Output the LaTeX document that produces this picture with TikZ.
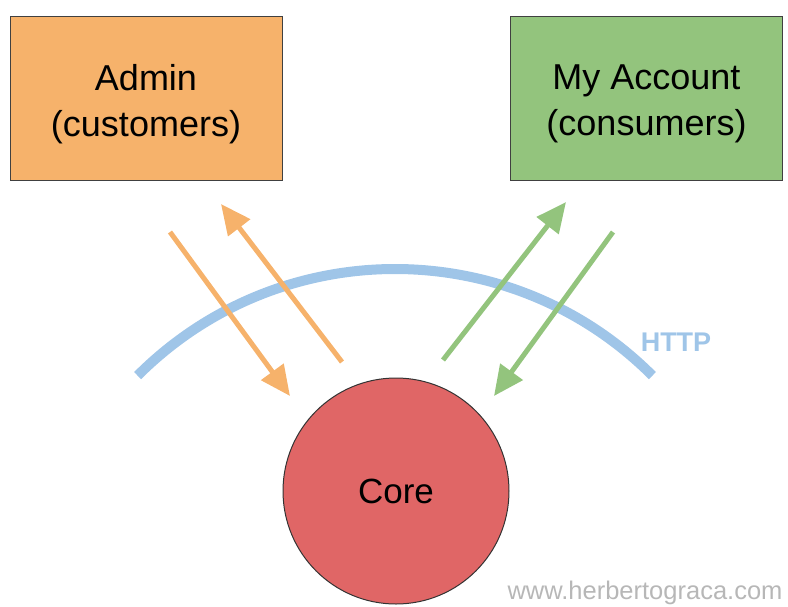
\documentclass[tikz,border=0pt]{standalone}
\usepackage{fontspec}
\setmainfont{Liberation Sans}
\usepackage{tikz}
\usetikzlibrary{arrows.meta}
\pgfdeclarelayer{background}
\pgfdeclarelayer{foreground}
\pgfsetlayers{background,main,foreground}
\definecolor{adminorange}{HTML}{F6B26B}
\definecolor{accountgreen}{HTML}{93C47D}
\definecolor{corered}{HTML}{E06666}
\definecolor{httpblue}{HTML}{9FC5E8}
\definecolor{markgray}{HTML}{B7B7B7}
\tikzset{
  appbox/.style={draw=black!75, line width=1pt, minimum width=272pt, minimum height=164pt},
  applabel/.style={align=center, font=\fontsize{36}{46}\selectfont},
  flow/.style={line width=5pt, -{Triangle[length=30pt,width=27pt]}}
}

\begin{document}
\begin{tikzpicture}[x=1pt,y=-1pt]
\useasboundingbox (0,0) rectangle (788,606);
\begin{pgfonlayer}{foreground}
\node[appbox, fill=adminorange] (admin) at (146,98) {};
\node[applabel] (admintext) at ([yshift=-6pt]admin.center) {Admin\\(customers)};
\node[appbox, fill=accountgreen] (account) at (646.5,98) {};
\node[applabel] (accounttext) at ([yshift=-6pt]account.center) {My Account\\(consumers)};
\node[circle, draw=black!80, line width=1pt, fill=corered, minimum size=226pt, font=\fontsize{35}{40}\selectfont] (core) at (396,491) {Core};
\end{pgfonlayer}
\begin{pgfonlayer}{background}
\draw[httpblue, line width=10pt] (395,633) ++(225:364) arc[start angle=225, end angle=315, radius=364];
\node[text=httpblue, font=\bfseries\fontsize{27}{30}\selectfont] (http) at (676,342) {HTTP};
\end{pgfonlayer}
\coordinate (ain) at (170,232);
\coordinate (ainend) at (290,396);
\coordinate (aout) at (342,362);
\coordinate (aoutend) at (221,204);
\coordinate (cout) at (443,360);
\coordinate (coutend) at (566,202);
\coordinate (cin) at (613,232);
\coordinate (cinend) at (494,396);
\draw[flow, adminorange] (ain) -- (ainend);
\draw[flow, adminorange] (aout) -- (aoutend);
\draw[flow, accountgreen] (cout) -- (coutend);
\draw[flow, accountgreen] (cin) -- (cinend);
\node[text=markgray, font=\fontsize{25.5}{28}\selectfont, anchor=east] (mark) at (786,593) {www.herbertograca.com};
\end{tikzpicture}
\end{document}
